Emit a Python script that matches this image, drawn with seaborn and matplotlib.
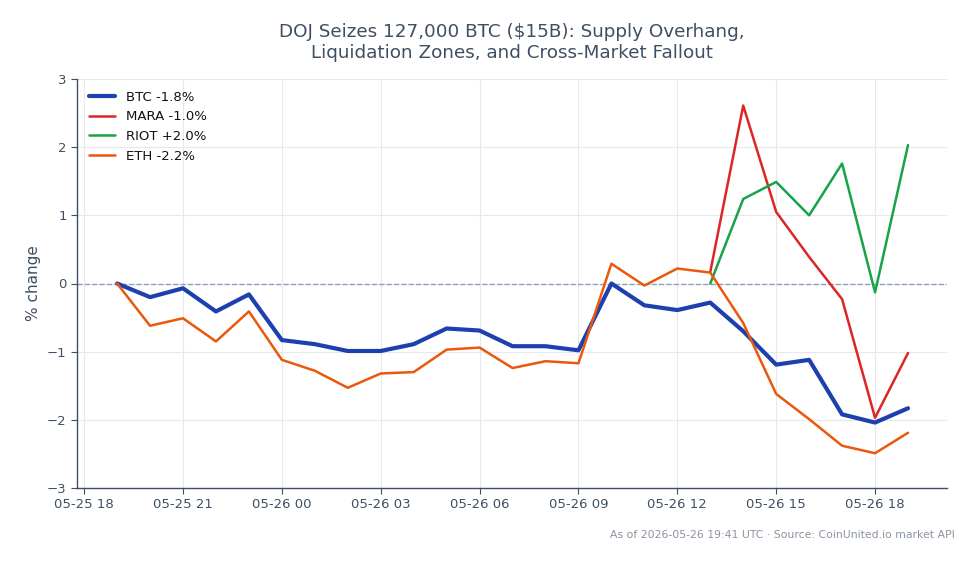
import pandas as pd
import matplotlib.pyplot as plt
import matplotlib.dates as mdates
import seaborn as sns

sns.set_style('white')
plt.rcParams['font.family'] = ['DejaVu Sans']
plt.rcParams['axes.unicode_minus'] = True

# hourly % change data
hours = pd.date_range('2026-05-25 19:00', '2026-05-26 19:00', freq='h')
btc = [0, -0.20, -0.07, -0.41, -0.16, -0.83, -0.89, -0.99, -0.99, -0.89, -0.66, -0.69, -0.92,
       -0.92, -0.98, 0.0, -0.32, -0.39, -0.28, -0.70, -1.19, -1.12, -1.92, -2.04, -1.83]
eth = [0, -0.62, -0.51, -0.85, -0.41, -1.12, -1.28, -1.53, -1.32, -1.30, -0.97, -0.94, -1.24,
       -1.14, -1.17, 0.29, -0.03, 0.22, 0.16, -0.58, -1.62, -1.99, -2.38, -2.49, -2.19]
mara_hours = hours[18:]
mara = [0.17, 2.61, 1.05, 0.39, -0.23, -1.97, -1.02]
riot = [0.0, 1.24, 1.49, 1.0, 1.76, -0.13, 2.03]

series = [
    ('BTC -1.8%', hours, btc, '#1e40af', 3.0),
    ('MARA -1.0%', mara_hours, mara, '#dc2626', 1.8),
    ('RIOT +2.0%', mara_hours, riot, '#16a34a', 1.8),
    ('ETH -2.2%', hours, eth, '#ea580c', 1.8),
]

text_col = '#3f4f63'

fig = plt.figure(figsize=(9.79, 5.64), dpi=100)
ax = fig.add_axes([77 / 979, 1 - 488 / 564, 870 / 979, 409 / 564])

for name, x, y, color, lw in series:
    df = pd.DataFrame({'time': x, 'pct': y})
    sns.lineplot(data=df, x='time', y='pct', ax=ax, color=color, linewidth=lw, label=name)

ax.axhline(0, color='#8fa0b8', linestyle='--', linewidth=1, zorder=1.5)

ax.set_ylim(-3, 3)
ax.set_yticks(range(-3, 4))
ax.set_xlim(pd.Timestamp('2026-05-25 17:47'), pd.Timestamp('2026-05-26 20:11'))
ax.xaxis.set_major_locator(mdates.HourLocator(byhour=range(0, 24, 3)))
ax.xaxis.set_major_formatter(mdates.DateFormatter('%m-%d %H'))

ax.grid(True, color='#e5e8ee', linewidth=0.8)
for s in ['top', 'right']:
    ax.spines[s].set_visible(False)
for s in ['left', 'bottom']:
    ax.spines[s].set_color('#3f4f63')
    ax.spines[s].set_linewidth(1.0)
ax.tick_params(axis='both', colors=text_col, labelsize=9.5, length=4, direction='out',
               left=True, bottom=True)
ax.set_xlabel('')
ax.set_ylabel('% change', color=text_col, fontsize=11)

leg = ax.legend(loc='upper left', frameon=False, fontsize=9.5, handlelength=2.0)
for t in leg.get_texts():
    t.set_color('#111111')

fig.suptitle('DOJ Seizes 127,000 BTC ($15B): Supply Overhang,\nLiquidation Zones, and Cross-Market Fallout',
             x=512 / 979, y=1 - 23 / 564, fontsize=13.2, color=text_col, va='top')
fig.text(955 / 979, 1 - 535 / 564, 'As of 2026-05-26 19:41 UTC · Source: CoinUnited.io market API',
         ha='right', va='center', fontsize=7.8, color='#8a94a3')

fig.savefig('out.png', dpi=100)
